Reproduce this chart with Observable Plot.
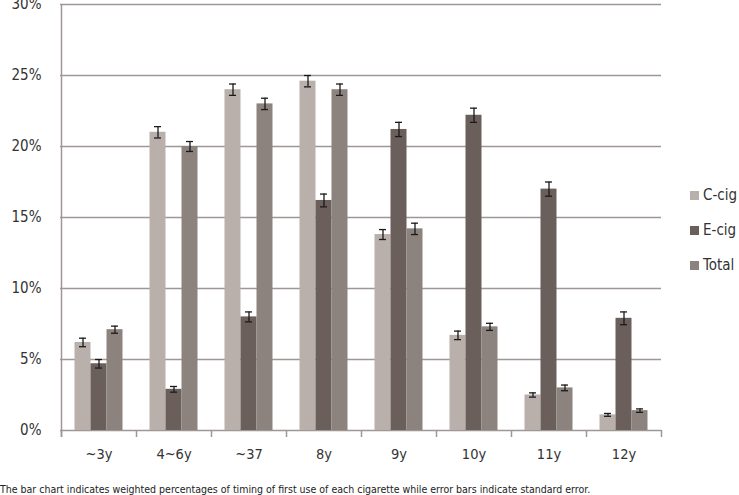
<!DOCTYPE html>
<html>
<head>
<meta charset="utf-8">
<script src="https://cdn.jsdelivr.net/npm/d3@7"></script>
<script src="https://cdn.jsdelivr.net/npm/@observablehq/plot@0.6"></script>
<style>
  body { margin: 0; background: #fff; font-family: "DejaVu Sans Condensed", "Liberation Sans Narrow", "Open Sans", sans-serif; }
  #wrap { position: relative; width: 739px; height: 495px; overflow: hidden; }
  #caption { position: absolute; left: 0; top: 483px; font-size: 10.5px; color: #222; white-space: nowrap; }
  #legend { position: absolute; left: 690px; top: 186px; font-size: 15px; color: #333; white-space: nowrap; }
  #legend div { height: 35px; display: flex; align-items: flex-start; }
  #legend span.sw { display: inline-block; width: 9px; height: 9px; margin: 5px 4px 0 0; }
</style>
</head>
<body>
<div id="wrap">
  <div id="chart"></div>
  <div id="legend"></div>
  <div id="caption">The bar chart indicates weighted percentages of timing of first use of each cigarette while error bars indicate standard error.</div>
</div>
<script>
const categories = ["~3y", "4~6y", "~37", "8y", "9y", "10y", "11y", "12y"];
const series = ["C-cig", "E-cig", "Total"];
const colors = ["#bab0ab", "#6b5f5b", "#8d837e"];
const cCig = [6.2, 21.0, 24.0, 24.6, 13.8, 6.7, 2.5, 1.1];
const eCig = [4.7, 2.9, 8.0, 16.2, 21.2, 22.2, 17.0, 7.9];
const total = [7.1, 20.0, 23.0, 24.0, 14.2, 7.3, 3.0, 1.4];
const cErr = [0.3, 0.4, 0.4, 0.4, 0.35, 0.3, 0.15, 0.1];
const eErr = [0.3, 0.2, 0.35, 0.45, 0.5, 0.5, 0.5, 0.45];
const tErr = [0.25, 0.35, 0.4, 0.4, 0.4, 0.25, 0.2, 0.12];
const yTicks = [0, 5, 10, 15, 20, 25, 30];

const values = [cCig, eCig, total];
const errors = [cErr, eErr, tErr];
const offsets = [-16, 0, 16];

const marks = [];
marks.push(Plot.ruleY(yTicks, {stroke: "#9e9795", strokeWidth: 1.5}));
marks.push(Plot.ruleX(categories, {x: d => d, dx: -37.5, insetTop: 426, insetBottom: -7, stroke: "#9e9795", strokeWidth: 1.5}));
marks.push(Plot.ruleX([categories[categories.length - 1]], {x: d => d, dx: 37.5, insetTop: 426, insetBottom: -7, stroke: "#9e9795", strokeWidth: 1.5}));
marks.push(Plot.ruleX([categories[0]], {x: d => d, dx: -37.5, insetBottom: -7, stroke: "#9e9795", strokeWidth: 1.5}));

series.forEach((s, i) => {
  const data = categories.map((c, j) => ({cat: c, v: values[i][j], e: errors[i][j]}));
  marks.push(Plot.barY(data, {x: "cat", y: "v", fill: colors[i], dx: offsets[i], insetLeft: 29.5, insetRight: 29.5}));
  marks.push(Plot.ruleX(data, {x: "cat", y1: d => d.v - d.e, y2: d => d.v + d.e, dx: offsets[i], stroke: "#1a1a1a", strokeWidth: 1.3}));
  marks.push(Plot.tickY(data, {x: "cat", y: d => d.v - d.e, dx: offsets[i], insetLeft: 34, insetRight: 34, stroke: "#1a1a1a", strokeWidth: 1.3}));
  marks.push(Plot.tickY(data, {x: "cat", y: d => d.v + d.e, dx: offsets[i], insetLeft: 34, insetRight: 34, stroke: "#1a1a1a", strokeWidth: 1.3}));
});

marks.push(Plot.axisY({ticks: yTicks, tickSize: 0, tickPadding: 19, tickFormat: d => d + "%", fontSize: 15, fill: "#333"}));
marks.push(Plot.axisX({tickSize: 0, tickPadding: 18, fontSize: 14.5, fill: "#333"}));

const chart = Plot.plot({
  width: 739,
  height: 475,
  marginLeft: 60,
  marginRight: 78,
  marginTop: 4,
  marginBottom: 45,
  style: {fontFamily: '"DejaVu Sans Condensed", "Liberation Sans Narrow", "Open Sans", sans-serif', background: "#fff"},
  x: {domain: categories, padding: 0, label: null},
  y: {domain: [0, 30], label: null},
  marks
});
document.getElementById("chart").appendChild(chart);

const legend = document.getElementById("legend");
series.forEach((s, i) => {
  const row = document.createElement("div");
  row.innerHTML = `<span class="sw" style="background:${colors[i]}"></span>${s}`;
  legend.appendChild(row);
});
</script>
</body>
</html>
